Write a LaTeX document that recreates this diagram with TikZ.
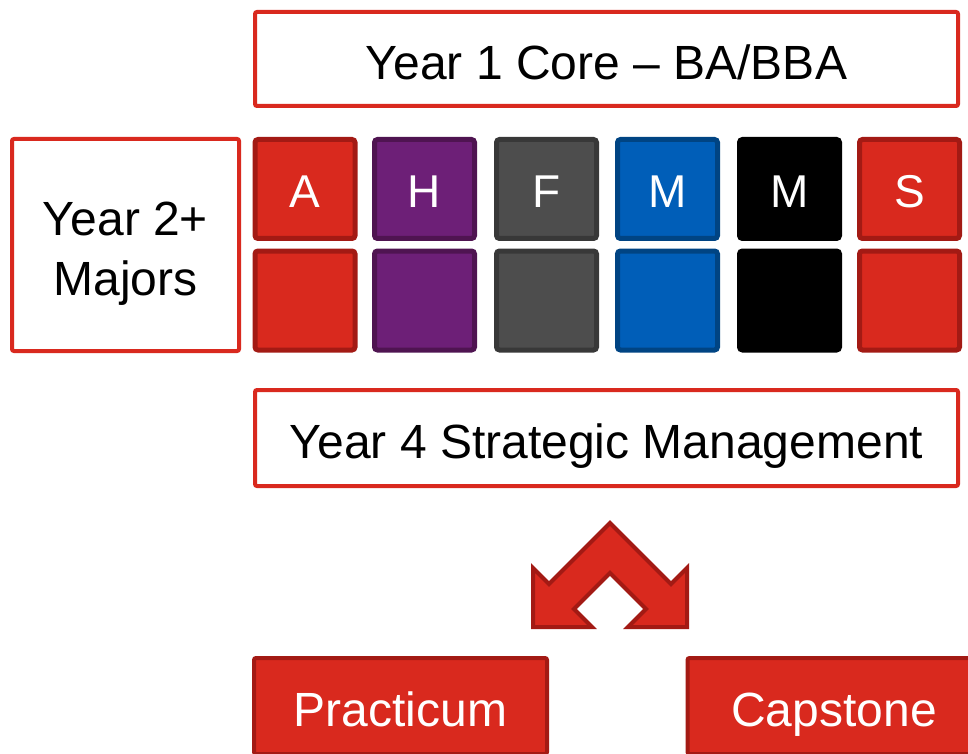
\documentclass[tikz,border=0pt]{standalone}
\usepackage{fontspec}
\setmainfont{Liberation Sans}
\usetikzlibrary{positioning}
\definecolor{CoreRed}{HTML}{D9291E}
\definecolor{CoreRedDark}{HTML}{A31A14}
\definecolor{MajPurple}{HTML}{6D1F77}
\definecolor{MajPurpleDark}{HTML}{4F1451}
\definecolor{MajGray}{HTML}{4D4D4D}
\definecolor{MajGrayDark}{HTML}{383838}
\definecolor{MajBlue}{HTML}{005EB8}
\definecolor{MajBlueDark}{HTML}{004483}
\tikzset{
  outlinebox/.style={rectangle, rounded corners=1pt, draw=CoreRed, line width=2pt, fill=white, font=\fontsize{24}{30}\selectfont, align=center, inner sep=0pt},
  onelinetext/.style={text height=20.2pt, text depth=0pt},
  majorsq/.style 2 args={rectangle, rounded corners=1.5pt, fill=#1, draw=#2, line width=2.5pt, minimum width=50pt, minimum height=49.5pt, text=white, font=\fontsize{23}{27}\selectfont, text height=18.4pt, text depth=0pt, inner sep=0pt},
  finalbox/.style={rectangle, rounded corners=1pt, fill=CoreRed, draw=CoreRedDark, line width=2pt, minimum width=146.5pt, minimum height=48pt, text=white, font=\fontsize{24}{28}\selectfont, onelinetext, inner sep=0pt},
  forkarrow/.style={fill=CoreRed, draw=CoreRedDark, line width=2pt, line join=miter}
}
\begin{document}
\begin{tikzpicture}[x=0.5pt, y=-0.5pt]
  \useasboundingbox (0,0) rectangle (968,754);
  \clip (0,0) rectangle (968,754);
  % year boxes
  \node[outlinebox, onelinetext, minimum width=351.5pt, minimum height=47pt] (core) at (606.5,59) {Year 1 Core -- BA/BBA};
  \node[outlinebox, minimum width=113.5pt, minimum height=106pt] (majors) at (125.5,245) {\rule{0pt}{25pt}Year 2+\\Majors};
  \node[outlinebox, onelinetext, minimum width=351.5pt, minimum height=48pt] (strategic) at (606.5,438) {Year 4 Strategic Management};
  % major squares
  \foreach \name/\cx/\fillc/\drawc/\letter in {majA/305/CoreRed/CoreRedDark/A, majH/424.5/MajPurple/MajPurpleDark/H, majF/546.5/MajGray/MajGrayDark/F, majM/667.5/MajBlue/MajBlueDark/M, majK/789.5/black/black/M, majS/909.5/CoreRed/CoreRedDark/S} {
    \node[majorsq={\fillc}{\drawc}] (\name top) at (\cx,189) {\letter};
    \node[majorsq={\fillc}{\drawc}] (\name bot) at (\cx,300.5) {};
  }
  % double arrow
  \draw[forkarrow] (610,523) -- (549,584) -- (533,568) -- (533,627) -- (592,627) -- (574,609)
    -- (610,573) -- (646,609) -- (628,627) -- (687,627) -- (687,568) -- (671,584) -- cycle;
  % final options
  \node[finalbox] (practicum) at (400.5,706) {Practicum};
  \node[finalbox] (capstone) at (834,706) {Capstone};
\end{tikzpicture}
\end{document}
